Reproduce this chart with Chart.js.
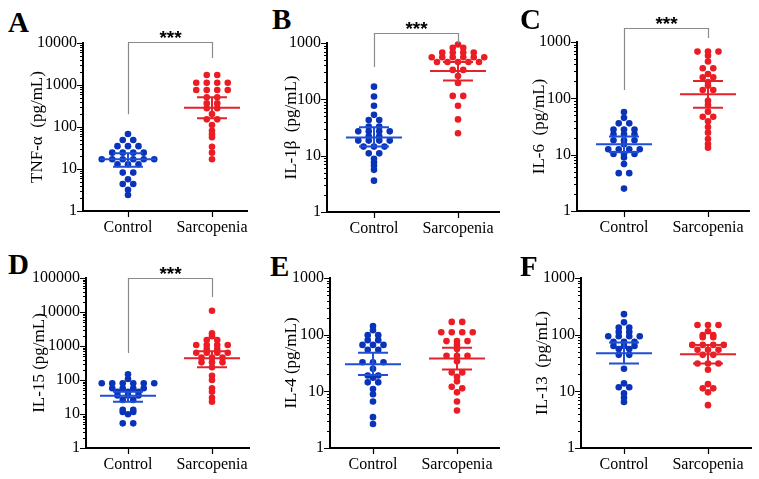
<!DOCTYPE html>
<html lang="en">
<head>
<meta charset="UTF-8">
<title>Cytokine levels</title>
<script src="https://cdn.jsdelivr.net/npm/chart.js"></script>
<style>
  body { margin: 0; background: #fff; }
  #wrap { position: relative; width: 759px; height: 479px; overflow: hidden; background: #fff; }
  #wrap canvas { position: absolute; }
  .tag { position: absolute; font: bold 29px "Liberation Serif", serif; line-height: 1; color: #000; }
</style>
</head>
<body>
<div id="wrap"></div>
<script>
// ---- values ----
const groups = ['Control', 'Sarcopenia'];
const panelTags = ['A', 'B', 'C', 'D', 'E', 'F'];
const yTitles = ['TNF-α  (pg/mL)', 'IL-1β  (pg/mL)', 'IL-6  (pg/mL)', 'IL-15 (pg/mL)', 'IL-4 (pg/mL)', 'IL-13  (pg/mL)'];
const yTicks = [
    [1, 10, 100, 1000, 10000],
    [1, 10, 100, 1000],
    [1, 10, 100, 1000],
    [1, 10, 100, 1000, 10000, 100000],
    [1, 10, 100, 1000],
    [1, 10, 100, 1000]
];

const tnfControl = [68, 49, 49, 35, 35, 35, 24.5, 24.5, 24.5, 24.5, 17, 17, 17, 17, 17, 17, 13, 13, 13, 8.2, 8.2, 5.7, 4.4, 4.4, 3.2, 2.4];
const tnfSarco = [1730, 1730, 1135, 1135, 1135, 1135, 760, 760, 760, 760, 510, 510, 365, 365, 279, 279, 204, 152, 152, 112, 81, 67, 57, 34, 24.5, 17];
const il1bControl = [168, 112, 77, 53, 43, 43, 33, 33, 27, 27, 27, 27, 22, 22, 18.5, 18.5, 18.5, 18.5, 14.5, 14.5, 14.5, 11, 11, 8.8, 7.6, 6.6, 5.6, 3.6];
const il1bSarco = [940, 820, 820, 675, 675, 675, 675, 560, 560, 560, 560, 560, 560, 460, 460, 460, 460, 460, 333, 333, 260, 195, 115, 115, 77, 44, 25];
const il6Control = [57, 45, 36, 36, 28, 28, 28, 23, 23, 23, 18, 18, 18, 15.3, 12.5, 12.5, 12.5, 12.5, 10.3, 10.3, 10.3, 8.9, 6.8, 4.7, 4.7, 2.5];
const il6Sarco = [675, 675, 675, 570, 450, 343, 343, 270, 237, 237, 194, 168, 141, 141, 90, 76, 58, 47, 47, 39, 31, 24.6, 19, 15.5, 13.3];
const il15Control = [147, 107, 80, 80, 80, 80, 80, 80, 57, 57, 57, 57, 45, 45, 45, 35, 35, 35, 26, 26, 13.4, 13.4, 11.5, 11.5, 9.8, 5.3, 5.3];
const il15Sarco = [10900, 2350, 1950, 1500, 1500, 1070, 1070, 1070, 1070, 815, 815, 635, 635, 635, 635, 455, 455, 455, 330, 330, 330, 236, 134, 100, 57, 45, 30, 23];
const il4Control = [142, 120, 98, 98, 80, 80, 66, 66, 66, 54, 54, 32.6, 32.6, 32.6, 25, 19, 19, 17.4, 14.4, 14.4, 11, 8.9, 6.6, 3.5, 2.65];
const il4Sarco = [168, 168, 110, 110, 110, 110, 77, 77, 77, 66, 56, 42.4, 42.4, 42.4, 34, 21.6, 21.6, 18, 15, 12, 11.3, 9.6, 6.6, 4.6];
const il13Control = [230, 165, 134, 134, 112, 112, 94, 94, 94, 94, 75, 75, 75, 63, 63, 63, 56, 56, 44, 44, 25, 13.8, 11.8, 11.8, 9.2, 7.7, 6.5];
const il13Sarco = [148, 148, 148, 115, 98, 98, 90, 90, 66, 66, 66, 66, 54, 54, 54, 44, 44, 31, 31, 31, 24, 13.4, 11.3, 11.3, 9.6, 5.7];

// centre line and whiskers of each group
const controlMid = [17, 21, 15.3, 34.5, 30, 47];
const controlHi = [23.6, 32, 21, 45, 48, 73];
const controlLo = [11.3, 14.5, 11, 23, 19.4, 31];
const sarcoMid = [288, 320, 118, 435, 38, 45];
const sarcoHi = [509, 460, 203, 700, 59, 66];
const sarcoLo = [161, 215, 68, 236, 24.4, 31];

// significance brackets (value levels of top bar and the two legs)
const bracketTop = [10500, 1500, 1780, 100000, null, null];
const bracketLeft = [200, 376, 141, 620, null, null];
const bracketRight = [4400, 1000, 1180, 27600, null, null];
const sigLabels = ['***', '***', '***', '***', '', ''];

const controlSets = [tnfControl, il1bControl, il6Control, il15Control, il4Control, il13Control];
const sarcoSets = [tnfSarco, il1bSarco, il6Sarco, il15Sarco, il4Sarco, il13Sarco];

// ---- page geometry (pixels) ----
const boxes = [
    {cx: 0, cy: 0, cw: 270, ch: 240, left: 83, top: 43, right: 248, bottom: 211, c1: 128, titleX: 38, tagX: 8, tagY: 8},
    {cx: 255, cy: 0, cw: 265, ch: 240, left: 327, top: 43, right: 500, bottom: 212, c1: 374, titleX: 292, tagX: 272, tagY: 5},
    {cx: 505, cy: 0, cw: 254, ch: 240, left: 577, top: 42, right: 750, bottom: 211, c1: 624, titleX: 540, tagX: 520, tagY: 5},
    {cx: 0, cy: 240, cw: 270, ch: 239, left: 86, top: 278, right: 250, bottom: 448, c1: 128, titleX: 40, tagX: 8, tagY: 250},
    {cx: 255, cy: 240, cw: 265, ch: 239, left: 330, top: 278, right: 500, bottom: 448, c1: 373, titleX: 292, tagX: 270, tagY: 252},
    {cx: 505, cy: 240, cw: 254, ch: 239, left: 581, top: 278, right: 752, bottom: 448, c1: 624, titleX: 543, tagX: 520, tagY: 252}
];
const PX_PER_GROUP = 84;
const STEP = 0.125;          // horizontal gap between dots in a row, in x units
const BLUE = '#0934b8', RED = '#ec1c24';
const BLUE_LINE = '#1f4fd6', RED_LINE = '#e3232a';

Chart.defaults.font.family = '"Liberation Serif", serif';
Chart.defaults.font.size = 16;
Chart.defaults.color = '#000';

// scatter dot plot: values of equal height share a row, spread around the group centre
function spread(values, center) {
    const sorted = [...values].sort((a, b) => b - a);
    const rows = [];
    sorted.forEach(v => {
        const row = rows[rows.length - 1];
        if (row && Math.log10(row[0]) - Math.log10(v) < 0.03) row.push(v);
        else rows.push([v]);
    });
    return rows.flatMap(row => row.map((v, i) => ({x: center + (i - (row.length - 1) / 2) * STEP, y: v})));
}

const decor = {
    id: 'decor',
    beforeDatasetsDraw(chart, args, o) {
        const {ctx, chartArea: a, scales: {x, y}} = chart;
        ctx.save();
        ctx.strokeStyle = '#000';
        ctx.lineWidth = 2;
        ctx.beginPath();
        ctx.moveTo(a.left, a.top - 1);
        ctx.lineTo(a.left, a.bottom + 1);
        ctx.moveTo(a.left - 1, a.bottom);
        ctx.lineTo(a.right, a.bottom);
        ctx.stroke();

        // log ticks: long at decades, short in between
        ctx.lineWidth = 1.2;
        ctx.beginPath();
        for (let d = 1; d < y.max; d *= 10) {
            for (let k = 1; k < 10; k++) {
                const py = Math.round(y.getPixelForValue(k * d)) + 0.5;
                const len = k === 1 ? 6 : 3;
                ctx.moveTo(a.left - len, py);
                ctx.lineTo(a.left, py);
            }
        }
        const pTop = Math.round(y.getPixelForValue(y.max)) + 0.5;
        ctx.moveTo(a.left - 6, pTop);
        ctx.lineTo(a.left, pTop);
        [1, 2].forEach(v => {
            const px = Math.round(x.getPixelForValue(v)) + 0.5;
            ctx.moveTo(px, a.bottom);
            ctx.lineTo(px, a.bottom + 6);
        });
        ctx.stroke();

        // y axis title
        ctx.translate(o.titleX, (a.top + a.bottom) / 2);
        ctx.rotate(-Math.PI / 2);
        ctx.font = '17px "Liberation Serif"';
        ctx.fillStyle = '#000';
        ctx.textAlign = 'center';
        ctx.textBaseline = 'middle';
        ctx.fillText(o.title, 0, 0);
        ctx.restore();
    },
    afterDatasetsDraw(chart, args, o) {
        const {ctx, scales: {x, y}} = chart;
        ctx.save();
        ctx.lineWidth = 2;
        o.bars.forEach(b => {
            const px = x.getPixelForValue(b.at);
            const pm = y.getPixelForValue(b.mid);
            const ph = y.getPixelForValue(b.hi);
            const pl = y.getPixelForValue(b.lo);
            ctx.strokeStyle = b.color;
            ctx.beginPath();
            ctx.moveTo(px - 28, pm); ctx.lineTo(px + 28, pm);
            ctx.moveTo(px - 15, ph); ctx.lineTo(px + 15, ph);
            ctx.moveTo(px - 15, pl); ctx.lineTo(px + 15, pl);
            ctx.moveTo(px, ph); ctx.lineTo(px, pl);
            ctx.stroke();
        });

        if (o.bracket) {
            const b = o.bracket;
            const x1 = Math.round(x.getPixelForValue(1)) + 0.5;
            const x2 = Math.round(x.getPixelForValue(2)) + 0.5;
            const yt = Math.round(y.getPixelForValue(b.top)) + 0.5;
            ctx.strokeStyle = '#8a8a8a';
            ctx.lineWidth = 1.2;
            ctx.beginPath();
            ctx.moveTo(x1, y.getPixelForValue(b.left));
            ctx.lineTo(x1, yt);
            ctx.lineTo(x2, yt);
            ctx.lineTo(x2, y.getPixelForValue(b.right));
            ctx.stroke();
            ctx.fillStyle = '#000';
            ctx.font = 'bold 19px "Liberation Sans"';
            ctx.textAlign = 'center';
            ctx.textBaseline = 'alphabetic';
            ctx.fillText(b.label, (x1 + x2) / 2, yt + 1);
        }
        ctx.restore();
    }
};

const wrap = document.getElementById('wrap');

boxes.forEach((bx, i) => {
    const tag = document.createElement('div');
    tag.className = 'tag';
    tag.style.left = bx.tagX + 'px';
    tag.style.top = bx.tagY + 'px';
    tag.textContent = panelTags[i];
    wrap.appendChild(tag);

    const canvas = document.createElement('canvas');
    canvas.width = bx.cw;
    canvas.height = bx.ch;
    canvas.style.left = bx.cx + 'px';
    canvas.style.top = bx.cy + 'px';
    wrap.appendChild(canvas);

    const ticks = yTicks[i];
    new Chart(canvas, {
        type: 'scatter',
        data: {
            datasets: [
                {data: spread(controlSets[i], 1), backgroundColor: BLUE, borderWidth: 0, pointRadius: 3.3, clip: false},
                {data: spread(sarcoSets[i], 2), backgroundColor: RED, borderWidth: 0, pointRadius: 3.3, clip: false}
            ]
        },
        options: {
            responsive: false,
            animation: false,
            devicePixelRatio: 1,
            events: [],
            layout: {padding: {left: 0, top: bx.top - bx.cy, right: bx.cx + bx.cw - bx.right, bottom: 0}},
            plugins: {
                legend: {display: false},
                tooltip: {enabled: false},
                decor: {
                    title: yTitles[i],
                    titleX: bx.titleX - bx.cx,
                    bars: [
                        {at: 1, mid: controlMid[i], hi: controlHi[i], lo: controlLo[i], color: BLUE_LINE},
                        {at: 2, mid: sarcoMid[i], hi: sarcoHi[i], lo: sarcoLo[i], color: RED_LINE}
                    ],
                    bracket: bracketTop[i] ? {top: bracketTop[i], left: bracketLeft[i], right: bracketRight[i], label: sigLabels[i]} : null
                }
            },
            scales: {
                x: {
                    type: 'linear',
                    min: 1 - (bx.c1 - bx.left) / PX_PER_GROUP,
                    max: 1 + (bx.right - bx.c1) / PX_PER_GROUP,
                    grid: {display: false, drawTicks: false},
                    border: {display: false},
                    ticks: {padding: 7, callback: v => groups[v - 1]},
                    afterBuildTicks: s => { s.ticks = [{value: 1}, {value: 2}]; },
                    afterFit: s => { s.height = bx.cy + bx.ch - bx.bottom; }
                },
                y: {
                    type: 'logarithmic',
                    min: ticks[0],
                    max: ticks[ticks.length - 1],
                    grid: {display: false, drawTicks: false},
                    border: {display: false},
                    ticks: {padding: 6, callback: v => String(v)},
                    afterBuildTicks: s => { s.ticks = ticks.map(v => ({value: v})); },
                    afterFit: s => { s.width = bx.left - bx.cx; }
                }
            }
        },
        plugins: [decor]
    });
});
</script>
</body>
</html>
